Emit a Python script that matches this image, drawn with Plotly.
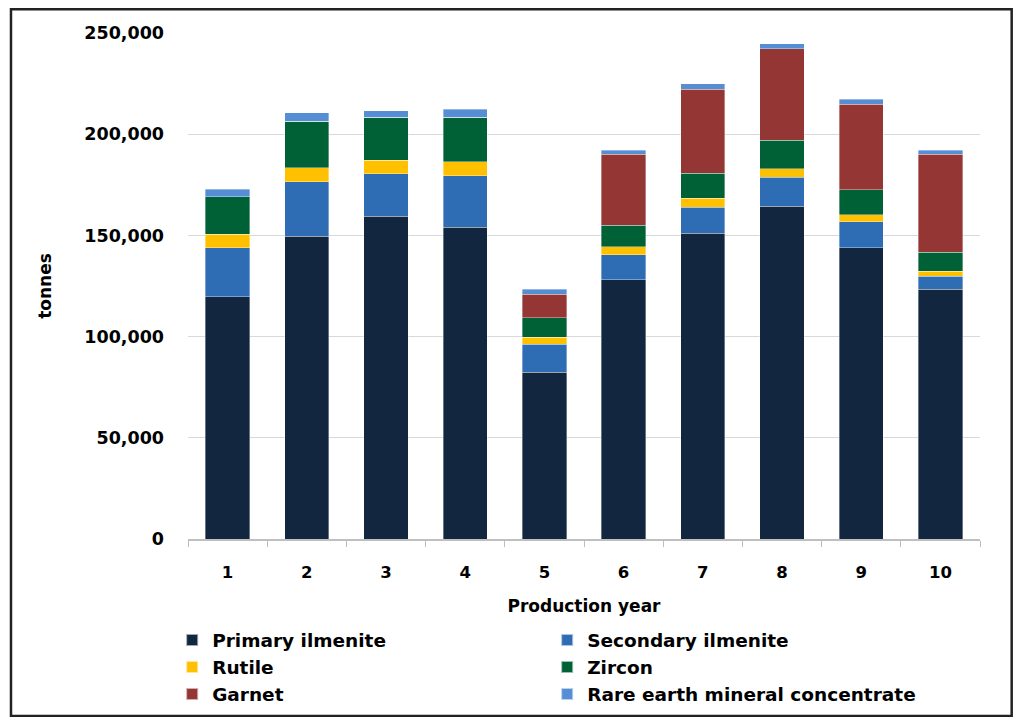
import plotly.graph_objects as go

years = ["1", "2", "3", "4", "5", "6", "7", "8", "9", "10"]

primary_ilmenite = [119600, 149700, 159400, 154000, 82500, 128100, 151000, 164400, 143900, 123400]
secondary_ilmenite = [24300, 26800, 21100, 25500, 13700, 12400, 12900, 14300, 12900, 6400]
rutile = [6600, 7000, 6600, 6800, 3600, 3800, 4400, 4300, 3400, 2600]
zircon = [18600, 22900, 21200, 22000, 9500, 10800, 12500, 14000, 12400, 9200]
garnet = [0, 0, 0, 0, 11700, 34900, 41500, 45100, 42300, 48400]
rare_earth = [3700, 4100, 3200, 4000, 2400, 2000, 2700, 2500, 2300, 2000]

series = [
    ("Primary ilmenite", primary_ilmenite, "#12263F"),
    ("Secondary ilmenite", secondary_ilmenite, "#2E6DB4"),
    ("Rutile", rutile, "#FFC000"),
    ("Zircon", zircon, "#006036"),
    ("Garnet", garnet, "#943634"),
    ("Rare earth mineral concentrate", rare_earth, "#558ED5"),
]

font = "DejaVu Sans"

fig = go.Figure()
for name, vals, col in series:
    fig.add_trace(go.Bar(
        x=years, y=vals, name=name,
        marker=dict(color=col, line=dict(color="rgba(255,255,255,0.6)", width=0.6)),
    ))

# page body has an 8px margin, so the figure is 16px smaller than the window
fig.update_layout(
    barmode="stack",
    bargap=0.44,
    width=1008, height=709,
    margin=dict(l=180, r=36, t=25, b=178, autoexpand=False),
    paper_bgcolor="white", plot_bgcolor="white",
    font=dict(family=font, color="#000000", size=16),
    showlegend=True,
    legend=dict(
        orientation="h", x=-0.02, xanchor="left", y=-0.163, yanchor="top",
        entrywidth=330, entrywidthmode="pixels",
        font=dict(family=font, size=18.5, weight="bold"),
        traceorder="normal", itemsizing="constant",
    ),
    xaxis=dict(
        title=dict(text="Production year", font=dict(size=17, weight="bold"), standoff=20),
        showline=True, linecolor="#bfbfbf", linewidth=1.5,
        ticks="outside", tickson="boundaries", ticklen=6, tickcolor="#bfbfbf",
        tickfont=dict(size=16.5, weight="bold"),
        ticklabelstandoff=17,
        showgrid=False,
    ),
    yaxis=dict(
        title=dict(text="tonnes", font=dict(size=17, weight="bold"), standoff=28),
        range=[0, 250000], dtick=50000, tickformat=",d",
        tickfont=dict(size=17.5, weight="bold"),
        ticklabelstandoff=23,
        showgrid=True, gridcolor="#d9d9d9", gridwidth=1,
        zeroline=False, showline=False,
    ),
    shapes=[dict(
        type="rect", xref="paper", yref="paper",
        x0=-0.2235, x1=1.040, y0=-0.350, y1=1.047,
        line=dict(color="#222222", width=2.5), fillcolor="rgba(0,0,0,0)",
        layer="below",
    )],
)

fig.write_html("out.html")
